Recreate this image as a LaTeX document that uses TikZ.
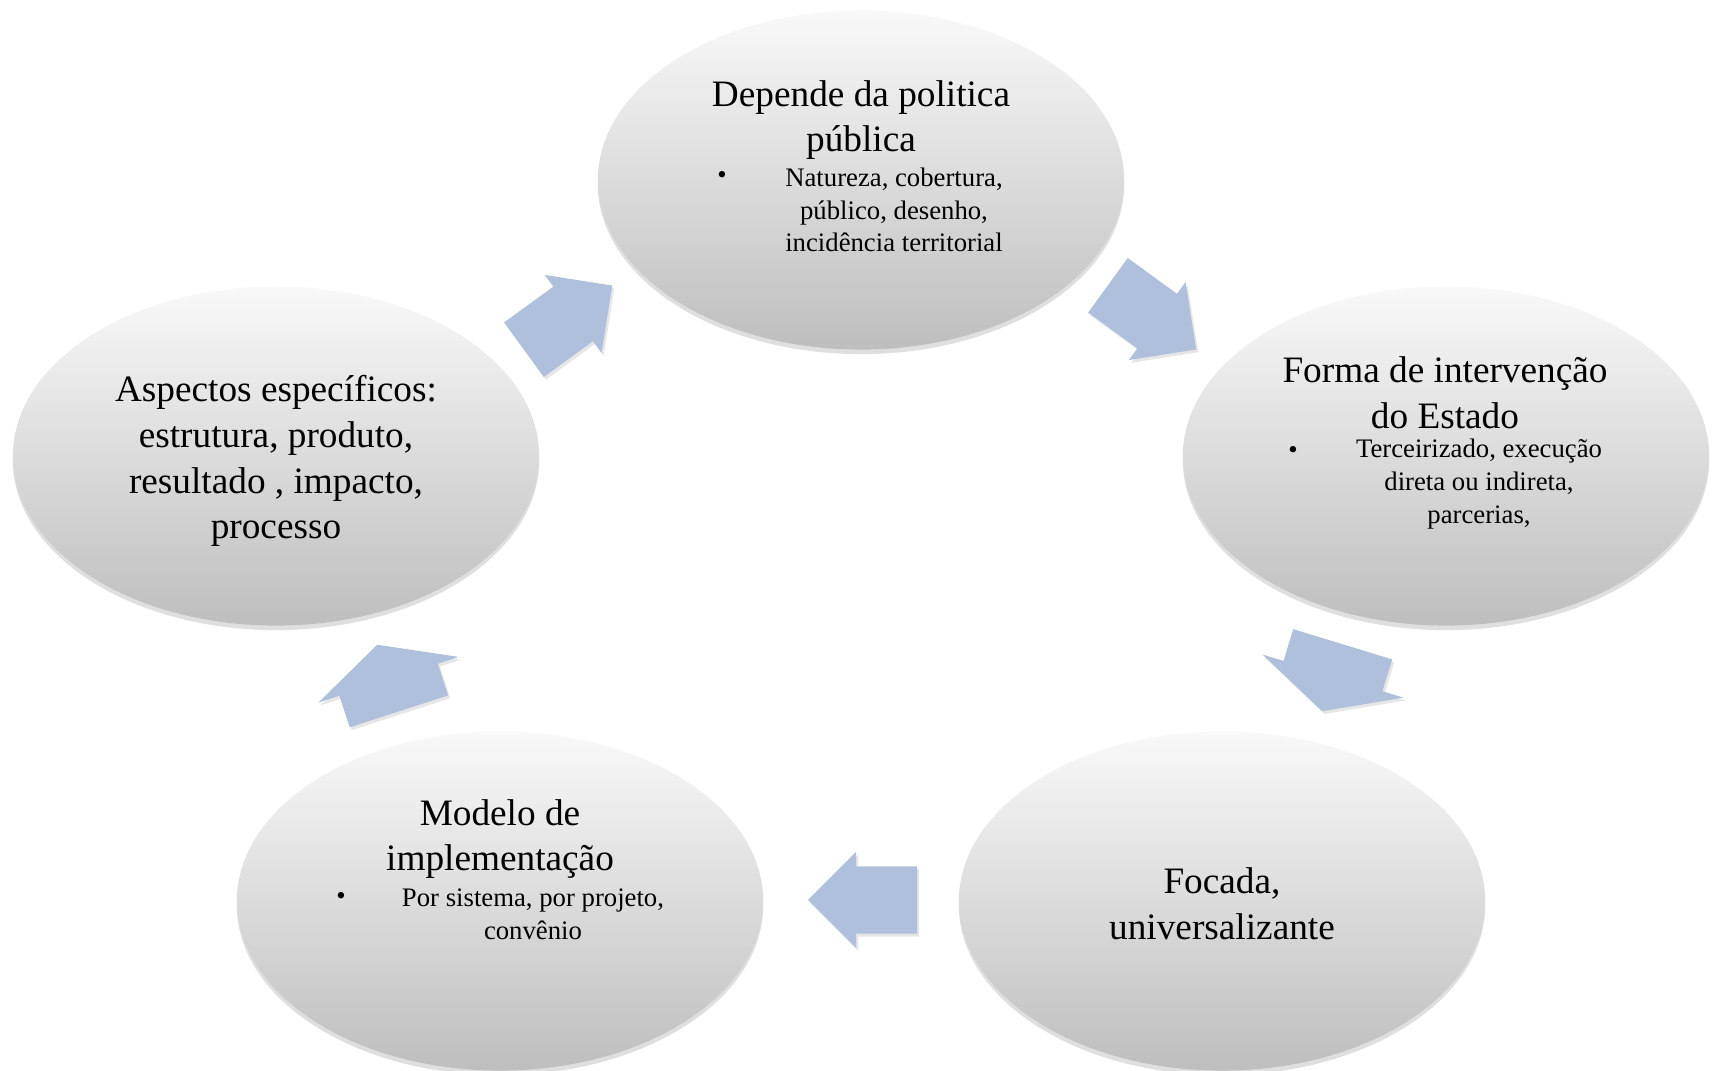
\documentclass[tikz,border=0pt]{standalone}
\usepackage{fontspec}
\setmainfont{Liberation Serif}
\usepackage{xcolor}
\usetikzlibrary{shapes,arrows,positioning,shadows}

\definecolor{ellTop}{RGB}{249,249,249}
\definecolor{ellBot}{RGB}{190,190,190}
\definecolor{arrowBlue}{RGB}{175,192,220}

\begin{document}
\begin{tikzpicture}[
    x=0.01cm, y=-0.01cm,
    stage/.style={ellipse, minimum width=5.26cm, minimum height=3.39cm, inner sep=0pt, top color=ellTop, bottom color=ellBot, draw=none, drop shadow={opacity=0.25, shadow xshift=0pt, shadow yshift=-1.3pt}},
    title/.style={align=center, inner sep=0pt, font=\fontsize{10.6}{13}\selectfont},
    items/.style={align=center, inner sep=0pt, font=\fontsize{7.6}{9.3}\selectfont},
    dot/.style={inner sep=0pt, font=\fontsize{7.6}{9.3}\selectfont},
    turn/.style={single arrow, fill=arrowBlue, draw=none, inner xsep=0pt, inner ysep=0.33cm, anchor=tip, minimum height=1.09cm, single arrow head extend=0.145cm, single arrow tip angle=90, drop shadow={opacity=0.2, shadow xshift=0.6pt, shadow yshift=-0.8pt}},
    wide turn/.style={turn, inner ysep=0.51cm, minimum height=0.70cm, single arrow head extend=0.22cm, single arrow tip angle=127}
]
    \useasboundingbox (0,0) rectangle (1714,1071);

    % Stages
    \node[stage] (politica) at (861,180) {};
    \node[stage] (forma) at (1446,456) {};
    \node[stage] (focada) at (1222,901) {};
    \node[stage] (modelo) at (500,901) {};
    \node[stage] (aspectos) at (276,456) {};

    % Texts
    \node[title] (politica-t) at (861,120) {Depende da politica\\pública};
    \node[items] (politica-i) at (894,210) {Natureza, cobertura,\\público, desenho,\\incidência territorial};
    \node[dot] (politica-d) at (722,178) {•};

    \node[title] (forma-t) at (1445,393) {Forma de intervenção\\do Estado};
    \node[items] (forma-i) at (1479,484) {Terceirizado, execução\\direta ou indireta,\\parcerias,};
    \node[dot] (forma-d) at (1293,452) {•};

    \node[title] (focada-t) at (1222,904) {Focada,\\universalizante};

    \node[title] (modelo-t) at (500,839) {Modelo de\\implementação};
    \node[items] (modelo-i) at (533,914) {Por sistema, por projeto,\\convênio};
    \node[dot] (modelo-d) at (341,898) {•};

    \node[title] (aspectos-t) at (276,461) {Aspectos específicos:\\estrutura, produto,\\resultado , impacto,\\processo};

    % Arrows
    \node[turn, rotate=-36] (p2f) at (1197,350) {};
    \node[wide turn, rotate=-107] (f2u) at (1322,712) {};
    \node[turn, rotate=180] (u2m) at (807,900) {};
    \node[wide turn, rotate=108] (m2a) at (377,644) {};
    \node[turn, rotate=36] (a2p) at (613,285) {};
\end{tikzpicture}
\end{document}
